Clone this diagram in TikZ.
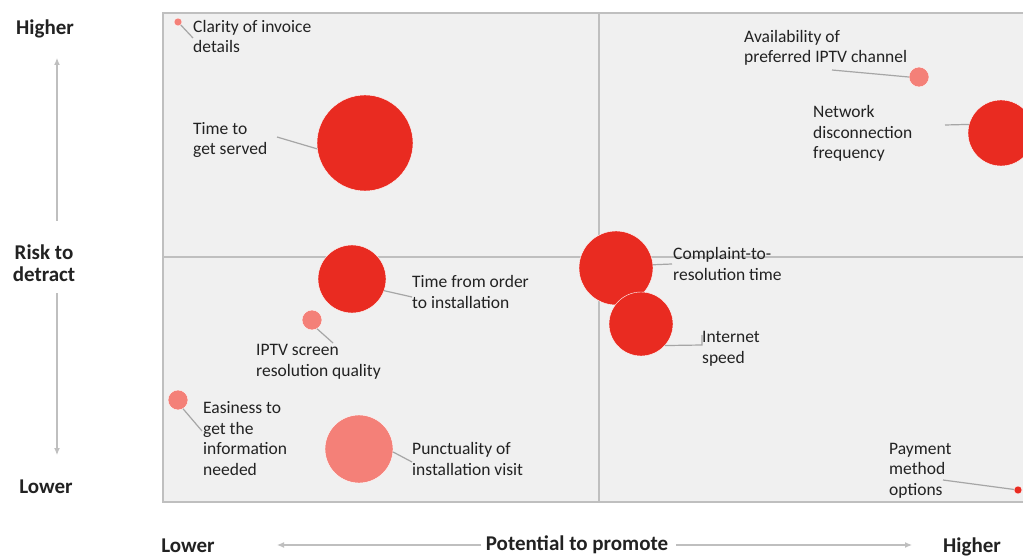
\documentclass[tikz,border=0pt]{standalone}
\usepackage{fontspec}
\setmainfont{Carlito}
\usetikzlibrary{arrows.meta}
\definecolor{bdark}{HTML}{E92B21}
\definecolor{blight}{HTML}{F48078}
\definecolor{panel}{HTML}{F0F0F0}
\definecolor{frame}{HTML}{BFBFBF}
\definecolor{leader}{HTML}{A6A6A6}
\definecolor{ink}{HTML}{222222}
\begin{document}
\begin{tikzpicture}[x=1pt,y=-1pt,
  bubdark/.style={circle,fill=bdark,draw=white,line width=0.4pt,inner sep=0},
  bublight/.style={circle,fill=blight,draw=white,line width=0.4pt,inner sep=0},
  lbl/.style={anchor=base west,align=left,inner sep=0,text=ink,font=\fontsize{17.5}{20.5}\selectfont},
  axlbl/.style={anchor=base,align=center,inner sep=0,text=ink,font=\bfseries\fontsize{21}{21}\selectfont},
  lead/.style={draw=leader,line width=1.2pt},
  axarrow/.style={draw=frame,line width=1.2pt,-{Latex[length=7pt,width=6pt]}}]
\useasboundingbox (0,0) rectangle (1023,556);
\clip (0,0) rectangle (1023,556);
\fill[white] (0,0) rectangle (1023,556);
% panel
\filldraw[fill=panel,draw=frame,line width=1.3pt] (163,13) rectangle (1040,502);
\draw[frame,line width=1.3pt] (163,257) -- (1040,257);
\draw[frame,line width=1.3pt] (599,13) -- (599,502);
% bubbles
\node[bublight,minimum size=8pt] (clarity) at (178,22) {};
\node[bubdark,minimum size=96pt] (served) at (365,143) {};
\node[bubdark,minimum size=68pt] (order) at (352,279) {};
\node[bublight,minimum size=20pt] (iptv) at (312,320) {};
\node[bublight,minimum size=20pt] (easy) at (178,400) {};
\node[bublight,minimum size=68pt] (punct) at (359,449) {};
\node[bubdark,minimum size=74pt] (complaint) at (616,268) {};
\node[bubdark,minimum size=64pt] (internet) at (641,324) {};
\node[bubdark,minimum size=8pt] (payment) at (1018,490) {};
\node[bublight,minimum size=20pt] (avail) at (919,77) {};
\node[bubdark,minimum size=66pt] (network) at (1001,133) {};
% labels (anchor = baseline of last line)
\node[lbl] (clarityL) at (193,53) {Clarity of invoice\\details};
\node[lbl] (servedL) at (193,155) {Time to\\get served};
\node[lbl] (orderL) at (412,308) {Time from order\\to installation};
\node[lbl] (iptvL) at (256,376) {IPTV screen\\resolution quality};
\node[lbl] (easyL) at (203,475) {Easiness to\\get the\\information\\needed};
\node[lbl] (punctL) at (412,475) {Punctuality of\\installation visit};
\node[lbl] (complaintL) at (673,280) {Complaint-to-\\resolution time};
\node[lbl] (internetL) at (702,363) {Internet\\speed};
\node[lbl] (paymentL) at (889,495) {Payment\\method\\options};
\node[lbl] (availL) at (744,63) {Availability of\\preferred IPTV channel};
\node[lbl] (networkL) at (813,159) {Network\\disconnection\\frequency};
% leader ends
\coordinate (cA) at (193,38);
\coordinate (sA) at (277,137);
\coordinate (oA) at (412,297);
\coordinate (iA) at (333,343);
\coordinate (eA) at (202,431);
\coordinate (pA) at (412,462);
\coordinate (kA) at (672,264);
\coordinate (nA) at (702,345);
\coordinate (nB) at (702,335);
\coordinate (yA) at (943,480);
\coordinate (aA) at (832,70);
\coordinate (wA) at (945,125);
% leaders
\draw[lead] (clarity) -- (cA);
\draw[lead] (served.187) -- (sA);
\draw[lead] (order.-20) -- (oA);
\draw[lead] (iptv.-60) -- (iA);
\draw[lead] (easy.-60) -- (eA);
\draw[lead] (punct.-5) -- (pA);
\draw[lead] (complaint.5) -- (kA);
\draw[lead] (internet.-42) -- (nA) -- (nB);
\draw[lead] (payment) -- (yA);
\draw[lead] (avail.west) -- (aA);
\draw[lead] (network.165) -- (wA);
% axes
\node[axlbl] (yhigh) at (45,35) {Higher};
\node[axlbl] (yrisk) at (44,281) {Risk to\\detract};
\node[axlbl] (ylow) at (46,493) {Lower};
\coordinate (yupS) at (57,221);
\coordinate (yupE) at (57,58);
\coordinate (ydnS) at (57,293);
\coordinate (ydnE) at (57,455);
\draw[axarrow] (yupS) -- (yupE);
\draw[axarrow] (ydnS) -- (ydnE);
\node[axlbl] (xlow) at (188,552) {Lower};
\node[axlbl] (xpot) at (577,550) {Potential to promote};
\node[axlbl] (xhigh) at (972,552) {Higher};
\coordinate (xlS) at (481,545);
\coordinate (xlE) at (277,545);
\coordinate (xrS) at (676,545);
\coordinate (xrE) at (912,545);
\draw[axarrow] (xlS) -- (xlE);
\draw[axarrow] (xrS) -- (xrE);
\end{tikzpicture}
\end{document}
